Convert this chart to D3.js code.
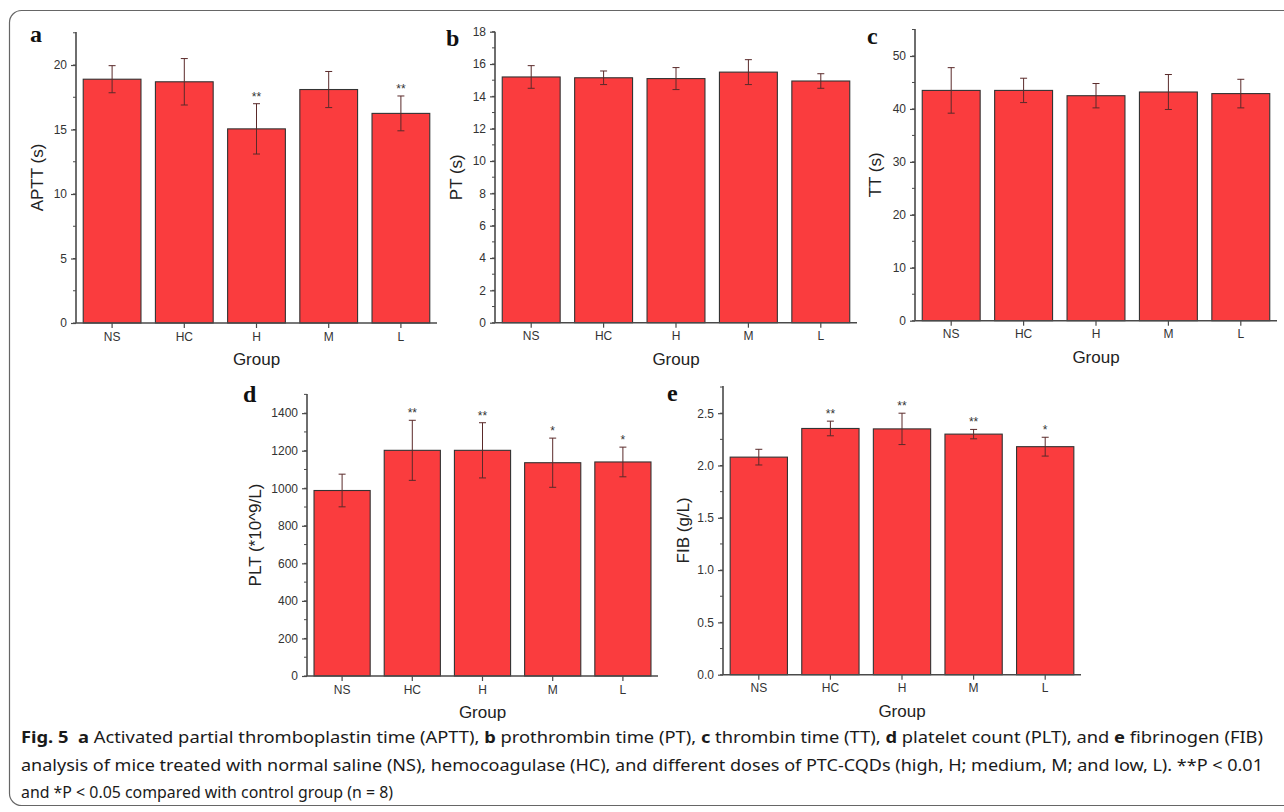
<!DOCTYPE html>
<html>
<head>
<meta charset="utf-8">
<script src="https://cdn.jsdelivr.net/npm/d3@7"></script>
<style>
  body { margin: 0; background: #fff; }
  svg { display: block; }
</style>
</head>
<body>
<div id="chart"></div>
<script>
// groups shared by every panel
const groups = ["NS", "HC", "H", "M", "L"];

// a: APTT (s)
const aptt = [18.9, 18.7, 15.05, 18.1, 16.25];
const apttErr = [1.05, 1.8, 1.95, 1.4, 1.35];
const apttSig = ["", "", "**", "", "**"];
const apttTicks = [0, 5, 10, 15, 20];

// b: PT (s)
const pt = [15.2, 15.15, 15.1, 15.5, 14.95];
const ptErr = [0.7, 0.42, 0.68, 0.77, 0.45];
const ptSig = ["", "", "", "", ""];
const ptTicks = [0, 2, 4, 6, 8, 10, 12, 14, 16, 18];

// c: TT (s)
const tt = [43.5, 43.5, 42.5, 43.2, 42.9];
const ttErr = [4.3, 2.3, 2.3, 3.3, 2.7];
const ttSig = ["", "", "", "", ""];
const ttTicks = [0, 10, 20, 30, 40, 50];

// d: PLT (*10^9/L)
const plt = [988, 1202, 1202, 1136, 1140];
const pltErr = [87, 160, 147, 131, 79];
const pltSig = ["", "**", "**", "*", "*"];
const pltTicks = [0, 200, 400, 600, 800, 1000, 1200, 1400];

// e: FIB (g/L)
const fib = [2.08, 2.354, 2.35, 2.30, 2.18];
const fibErr = [0.075, 0.07, 0.15, 0.045, 0.09];
const fibSig = ["", "**", "**", "**", "*"];
const fibTicks = [0, 0.5, 1.0, 1.5, 2.0, 2.5];

const W = 1284, H = 812;
const barFill = "#fa3c3e";
const axisColor = "#4a4a4a";
const sans = "'Liberation Sans', Arial, sans-serif";

const svg = d3.select("#chart").append("svg")
    .attr("width", W)
    .attr("height", H)
    .attr("viewBox", `0 0 ${W} ${H}`);

svg.append("rect").attr("width", W).attr("height", H).attr("fill", "#fff");

// outer frame, open on the right side
svg.append("rect")
    .attr("x", 9.5).attr("y", 10.5)
    .attr("width", 1300).attr("height", 795)
    .attr("rx", 12)
    .attr("fill", "none")
    .attr("stroke", "#666")
    .attr("stroke-width", 1.2);

function drawPanel(c) {
    const g = svg.append("g");

    const x = d3.scaleBand()
        .domain(groups)
        .range([c.x0, c.x1])
        .paddingInner(0.2)
        .paddingOuter(0.1);

    const y = d3.scaleLinear()
        .domain([0, c.yMax])
        .range([c.base, c.top]);

    // minor ticks
    const minor = d3.range(0, c.yMax + 1e-9, c.minor);
    g.append("g").selectAll("line")
        .data(minor)
        .join("line")
        .attr("x1", c.x0 - 3).attr("x2", c.x0)
        .attr("y1", d => y(d)).attr("y2", d => y(d))
        .attr("stroke", axisColor).attr("stroke-width", 1);

    // y axis
    const yAxis = d3.axisLeft(y)
        .tickValues(c.ticks)
        .tickSize(5)
        .tickPadding(4)
        .tickFormat(c.fmt || (d => d));
    const ya = g.append("g")
        .attr("transform", `translate(${c.x0},0)`)
        .call(yAxis);
    ya.select(".domain").attr("stroke", axisColor).attr("stroke-width", 1.6)
        .attr("d", `M0,${c.base}V${c.top}`);
    ya.selectAll(".tick line").attr("stroke", axisColor).attr("stroke-width", 1.2);
    ya.selectAll(".tick text")
        .attr("font-family", sans).attr("font-size", 12).attr("fill", "#333");

    // bars
    g.append("g").selectAll("rect")
        .data(c.values)
        .join("rect")
        .attr("x", (d, i) => x(groups[i]))
        .attr("y", d => y(d))
        .attr("width", x.bandwidth())
        .attr("height", d => y(0) - y(d))
        .attr("fill", barFill)
        .attr("stroke", "#333")
        .attr("stroke-width", 1.1);

    // error bars
    const eb = g.append("g").attr("stroke", "#5a2a2a").attr("stroke-width", 1);
    c.values.forEach((v, i) => {
        const cx = x(groups[i]) + x.bandwidth() / 2;
        const hi = y(v + c.errs[i]), lo = y(v - c.errs[i]);
        eb.append("line").attr("x1", cx).attr("x2", cx).attr("y1", hi).attr("y2", lo);
        eb.append("line").attr("x1", cx - 3.5).attr("x2", cx + 3.5).attr("y1", hi).attr("y2", hi);
        eb.append("line").attr("x1", cx - 3.5).attr("x2", cx + 3.5).attr("y1", lo).attr("y2", lo);
    });

    // significance stars
    g.append("g").selectAll("text")
        .data(c.sig)
        .join("text")
        .attr("x", (d, i) => x(groups[i]) + x.bandwidth() / 2)
        .attr("y", (d, i) => y(c.values[i] + c.errs[i]) - 3)
        .attr("text-anchor", "middle")
        .attr("font-family", sans)
        .attr("font-size", 12)
        .attr("fill", "#333")
        .text(d => d);

    // x axis
    const xAxis = d3.axisBottom(x).tickSize(5).tickPadding(4);
    const xa = g.append("g")
        .attr("transform", `translate(0,${c.base})`)
        .call(xAxis);
    xa.select(".domain").attr("stroke", axisColor).attr("stroke-width", 1.6)
        .attr("d", `M${c.x0},0H${c.x1}`);
    xa.selectAll(".tick line").attr("stroke", axisColor).attr("stroke-width", 1.2);
    xa.selectAll(".tick text")
        .attr("font-family", sans).attr("font-size", 12).attr("fill", "#333");

    // axis titles
    g.append("text")
        .attr("x", (c.x0 + c.x1) / 2)
        .attr("y", c.base + 42)
        .attr("text-anchor", "middle")
        .attr("font-family", sans)
        .attr("font-size", 17)
        .attr("fill", "#222")
        .text("Group");

    g.append("text")
        .attr("transform", `translate(${c.x0 - c.titleOff},${(c.top + c.base) / 2}) rotate(-90)`)
        .attr("text-anchor", "middle")
        .attr("dominant-baseline", "central")
        .attr("font-family", sans)
        .attr("font-size", 17)
        .attr("fill", "#222")
        .text(c.title);

    // panel letter
    g.append("text")
        .attr("x", c.lx).attr("y", c.ly)
        .attr("font-family", "'Liberation Serif', 'Times New Roman', serif")
        .attr("font-weight", "bold")
        .attr("font-size", 24)
        .attr("fill", "#111")
        .text(c.letter);
}

drawPanel({letter: "a", lx: 30, ly: 42, title: "APTT (s)", titleOff: 39,
    x0: 76, x1: 437, top: 32, base: 323, yMax: 22.56, minor: 2.5,
    ticks: apttTicks, values: aptt, errs: apttErr, sig: apttSig});

drawPanel({letter: "b", lx: 446, ly: 46, title: "PT (s)", titleOff: 39,
    x0: 495, x1: 857, top: 31.7, base: 322.7, yMax: 18, minor: 1,
    ticks: ptTicks, values: pt, errs: ptErr, sig: ptSig});

drawPanel({letter: "c", lx: 867, ly: 44, title: "TT (s)", titleOff: 40,
    x0: 915, x1: 1277, top: 29, base: 320.7, yMax: 55.1, minor: 5,
    ticks: ttTicks, values: tt, errs: ttErr, sig: ttSig});

drawPanel({letter: "d", lx: 243, ly: 402, title: "PLT (*10^9/L)", titleOff: 52,
    x0: 307, x1: 658, top: 394, base: 676, yMax: 1502, minor: 100,
    ticks: pltTicks, values: plt, errs: pltErr, sig: pltSig});

drawPanel({letter: "e", lx: 667, ly: 401, title: "FIB (g/L)", titleOff: 40,
    x0: 723, x1: 1081, top: 386, base: 674.7, yMax: 2.76, minor: 0.25,
    ticks: fibTicks, values: fib, errs: fibErr, sig: fibSig, fmt: d3.format(".1f")});

// caption
const captionLines = [
    [["Fig. 5", true], ["\u00a0\u00a0", false], ["a", true], [" Activated partial thromboplastin time (APTT), ", false],
     ["b", true], [" prothrombin time (PT), ", false], ["c", true], [" thrombin time (TT), ", false],
     ["d", true], [" platelet count (PLT), and ", false], ["e", true], [" fibrinogen (FIB)", false]],
    [["analysis of mice treated with normal saline (NS), hemocoagulase (HC), and different doses of PTC-CQDs (high, H; medium, M; and low, L). **P < 0.01", false]],
    [["and *P < 0.05 compared with control group (n = 8)", false]]
];
const captionY = [743, 771, 798];
const captionLen = [1242, 1242, 372];

captionLines.forEach((parts, li) => {
    const t = svg.append("text")
        .attr("x", 21)
        .attr("y", captionY[li])
        .attr("font-family", "'Noto Sans', 'Open Sans', sans-serif")
        .attr("font-size", 15.5)
        .attr("fill", "#1a1a1a")
        .attr("textLength", captionLen[li])
        .attr("lengthAdjust", "spacingAndGlyphs");
    parts.forEach(([s, bold]) => {
        t.append("tspan")
            .attr("font-weight", bold ? "bold" : "normal")
            .text(s);
    });
});
</script>
</body>
</html>
